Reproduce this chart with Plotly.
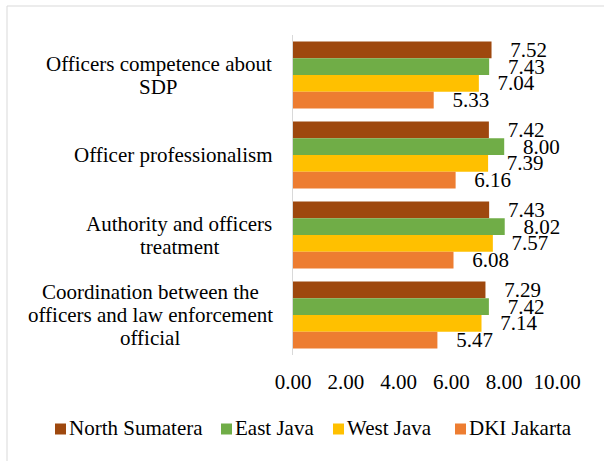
import plotly.graph_objects as go

category_lines = [
    ["Officers competence about", "SDP"],
    ["Officer professionalism"],
    ["Authority and officers", "treatment"],
    ["Coordination between the", "officers and law enforcement", "official"],
]
categories = ["<br>".join(c) for c in category_lines]
series_names = ["North Sumatera", "East Java", "West Java", "DKI Jakarta"]
north_sumatera = [7.52, 7.42, 7.43, 7.29]
east_java = [7.43, 8.00, 8.02, 7.42]
west_java = [7.04, 7.39, 7.57, 7.14]
dki_jakarta = [5.33, 6.16, 6.08, 5.47]
colors = ["#9E480E", "#70AD47", "#FFC000", "#ED7D31"]
tick_vals = [0, 2, 4, 6, 8, 10]

FONT = "Liberation Serif"
FS = 21

W, H = 604, 461
ML, MR, MT, MB = 293, 47, 35, 106
PW, PH = W - ML - MR, H - MT - MB

# layout helpers (pixel -> paper)
def px2x(px):
    return (px - ML) / PW

def py2y(py):
    return (H - MB - py) / PH

# label block centres (pixels) and line spacing
label_center_px = [158.5, 172.5, 179, 150]
LINE = 23
legend_sq_px = [55, 221, 333, 455]
LEG_Y = 429
SQ = 11

fig = go.Figure()
for name, vals, col in zip(series_names, [north_sumatera, east_java, west_java, dki_jakarta], colors):
    fig.add_trace(go.Bar(
        name=name, y=categories, x=vals, orientation="h",
        marker=dict(color=col, line=dict(width=0)),
        text=["\u00a0\u00a0\u00a0" + f"{v:.2f}" for v in vals],
        textposition="outside", cliponaxis=False, constraintext="none",
        textfont=dict(family=FONT, size=FS, color="#000000"),
        showlegend=False,
    ))

annotations = []
for cat, lines, cx in zip(categories, category_lines, label_center_px):
    n = len(lines)
    for i, line in enumerate(lines):
        annotations.append(dict(
            x=px2x(cx), y=cat, xref="paper", yref="y", text=line, showarrow=False,
            xanchor="center", yanchor="middle", yshift=-(i - (n - 1) / 2) * LINE,
            font=dict(family=FONT, size=FS, color="#000000"),
        ))

shapes = [
    dict(type="line", xref="paper", yref="paper", x0=px2x(7), x1=px2x(7), y0=py2y(6), y1=py2y(470),
         line=dict(color="#d9d9d9", width=1)),
    dict(type="line", xref="paper", yref="paper", x0=px2x(7), x1=px2x(620), y0=py2y(6), y1=py2y(6),
         line=dict(color="#d9d9d9", width=1)),
]

# manual legend
for name, col, sx in zip(series_names, colors, legend_sq_px):
    shapes.append(dict(type="rect", xref="paper", yref="paper",
                       x0=px2x(sx), x1=px2x(sx + SQ), y0=py2y(LEG_Y - SQ / 2), y1=py2y(LEG_Y + SQ / 2),
                       fillcolor=col, line=dict(width=0)))
    annotations.append(dict(x=px2x(sx + SQ + 1), y=py2y(LEG_Y - 1), xref="paper", yref="paper",
                            text=name, showarrow=False, xanchor="left", yanchor="middle",
                            font=dict(family=FONT, size=FS, color="#000000")))

fig.update_layout(
    width=W, height=H,
    margin=dict(l=ML, r=MR, t=MT, b=MB),
    paper_bgcolor="white", plot_bgcolor="white",
    barmode="group", bargap=0.16, bargroupgap=0,
    font=dict(family=FONT, size=FS, color="#000000"),
    xaxis=dict(range=[0, 10], tickvals=tick_vals, ticktext=[f"{v:.2f}" for v in tick_vals],
               showgrid=False, zeroline=False, showline=False, ticks="",
               ticklabelstandoff=12, fixedrange=True),
    yaxis=dict(autorange="reversed", showticklabels=False, showgrid=False, zeroline=False,
               showline=True, linecolor="#d9d9d9", linewidth=1, ticks=""),
    showlegend=False,
    annotations=annotations, shapes=shapes,
)

fig.write_html("out.html")
